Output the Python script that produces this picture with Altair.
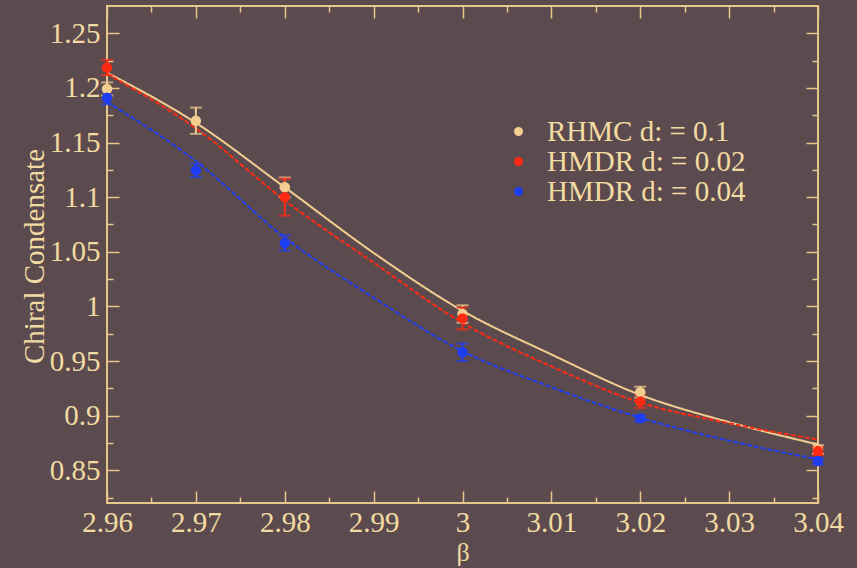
import altair as alt
import pandas as pd

# ---------------- data ----------------
series_names = ["RHMC d: = 0.1", "HMDR d: = 0.02", "HMDR d: = 0.04"]
series_colors = ["#F2CF91", "#FF2A14", "#1E3CF2"]

rhmc_beta = [2.96, 2.97, 2.98, 3.00, 3.02, 3.04]
rhmc_val = [1.199, 1.170, 1.109, 0.993, 0.9215, 0.869]
rhmc_err = [0.006, 0.012, 0.009, 0.008, 0.005, 0.004]

hmdr02_beta = [2.96, 2.98, 3.00, 3.02, 3.04]
hmdr02_val = [1.2186, 1.100, 0.989, 0.913, 0.8675]
hmdr02_err = [0.007, 0.017, 0.010, 0.006, 0.004]

hmdr04_beta = [2.96, 2.97, 2.98, 3.00, 3.02, 3.04]
hmdr04_val = [1.191, 1.1245, 1.058, 0.958, 0.8975, 0.8584]
hmdr04_err = [0.006, 0.006, 0.007, 0.008, 0.003, 0.003]

fit_beta = [2.96, 2.97, 2.98, 2.99, 3.00, 3.01, 3.02, 3.03, 3.04]
rhmc_fit = [1.214, 1.168, 1.109, 1.049, 0.996, 0.956, 0.919, 0.894, 0.8736]
hmdr02_fit = [1.213, 1.163, 1.097, 1.040, 0.985, 0.945, 0.912, 0.893, 0.878]
hmdr04_fit = [1.187, 1.133, 1.063, 1.008, 0.959, 0.926, 0.898, 0.877, 0.860]

x_major = [2.96, 2.97, 2.98, 2.99, 3.00, 3.01, 3.02, 3.03, 3.04]
x_minor = [2.965, 2.975, 2.985, 2.995, 3.005, 3.015, 3.025, 3.035]
y_major = [0.85, 0.9, 0.95, 1.0, 1.05, 1.1, 1.15, 1.2, 1.25]
y_minor = [0.825, 0.875, 0.925, 0.975, 1.025, 1.075, 1.125, 1.175, 1.225]

# ---------------- tables ----------------
pts = []
for name, b, v, e in [
    (series_names[0], rhmc_beta, rhmc_val, rhmc_err),
    (series_names[1], hmdr02_beta, hmdr02_val, hmdr02_err),
    (series_names[2], hmdr04_beta, hmdr04_val, hmdr04_err),
]:
    for bi, vi, ei in zip(b, v, e):
        pts.append({"series": name, "beta": bi, "val": vi, "lo": vi - ei, "hi": vi + ei})
pts_df = pd.DataFrame(pts)

caps_df = pd.concat([
    pts_df.assign(cap=pts_df["lo"]),
    pts_df.assign(cap=pts_df["hi"]),
])

fit_rows = []
for name, f in zip(series_names, [rhmc_fit, hmdr02_fit, hmdr04_fit]):
    for bi, vi in zip(fit_beta, f):
        fit_rows.append({"series": name, "beta": bi, "val": vi})
fit_df = pd.DataFrame(fit_rows)

legend_df = pd.DataFrame({"series": series_names})

# ---------------- style ----------------
FONT = "Liberation Serif"
TXT = "#F2DBA2"
AXC = "#E6C68A"
BG = "#5C4B4E"
W, H = 711, 497

xscale = alt.Scale(domain=[2.96, 3.04], nice=False, zero=False)
yscale = alt.Scale(domain=[0.82, 1.275], nice=False, zero=False)
cscale = alt.Scale(domain=series_names, range=series_colors)


def tick_axis(orient, values, size):
    return alt.Axis(orient=orient, values=values, labels=False, domain=False, grid=False,
                    ticks=True, tickSize=size, offset=-size, tickColor=AXC, tickWidth=1.5,
                    title=None)


x_label_axis = alt.Axis(orient="bottom", values=x_major, format="~g", ticks=False, tickSize=0,
                        domain=False, grid=False, labelPadding=5, labelFont=FONT,
                        labelFontSize=29, labelColor=TXT, labelFlush=False, labelOverlap=False,
                        title="β", titleFont=FONT, titleFontSize=26, titleFontWeight="normal",
                        titleColor=TXT, titleX=W / 2, titleY=57, titleBaseline="alphabetic",
                        titleAlign="center")
y_label_axis = alt.Axis(orient="left", values=y_major, format="~g", ticks=False, tickSize=0,
                        domain=False, grid=False, labelPadding=7, labelFont=FONT,
                        labelFontSize=29, labelColor=TXT, labelFlush=False, labelOverlap=False,
                        title="Chiral Condensate", titleFont=FONT, titleFontSize=29,
                        titleFontWeight="normal", titleColor=TXT, titleAngle=270,
                        titleX=-64, titleY=250, titleBaseline="alphabetic", titleAlign="center")

lines = alt.Chart(fit_df).mark_line(strokeWidth=2, interpolate="monotone").encode(
    x=alt.X("beta:Q", scale=xscale, axis=x_label_axis),
    y=alt.Y("val:Q", scale=yscale, axis=y_label_axis),
    color=alt.Color("series:N", scale=cscale, legend=None),
    strokeDash=alt.StrokeDash("series:N",
                              scale=alt.Scale(domain=series_names, range=[[1, 0], [5, 2], [5, 2]]),
                              legend=None),
)

rules = alt.Chart(pts_df).mark_rule(strokeWidth=2).encode(
    x=alt.X("beta:Q", scale=xscale, axis=tick_axis("bottom", x_major, 12)),
    y=alt.Y("lo:Q", scale=yscale, axis=tick_axis("left", y_major, 12)),
    y2="hi:Q",
    color=alt.Color("series:N", scale=cscale, legend=None),
)

caps = alt.Chart(caps_df).mark_tick(orient="horizontal", size=12, thickness=2).encode(
    x=alt.X("beta:Q", scale=xscale, axis=tick_axis("top", x_major, 12)),
    y=alt.Y("cap:Q", scale=yscale, axis=tick_axis("right", y_major, 12)),
    color=alt.Color("series:N", scale=cscale, legend=None),
)


def point_layer(name, xaxis, yaxis):
    return alt.Chart(pts_df[pts_df["series"] == name]).mark_circle(size=110, opacity=1).encode(
        x=alt.X("beta:Q", scale=xscale, axis=xaxis),
        y=alt.Y("val:Q", scale=yscale, axis=yaxis),
        color=alt.Color("series:N", scale=cscale, legend=None),
    )


legend = alt.Legend(orient="none", legendX=397, legendY=112, title=None, symbolType="circle",
                    symbolSize=80, labelFont=FONT, labelFontSize=29, labelColor=TXT,
                    labelOffset=14, labelLimit=500, rowPadding=0, clipHeight=27, padding=0,
                    symbolStrokeWidth=0)

# invisible layer that only carries the legend
legend_layer = alt.Chart(legend_df).mark_circle(size=0, opacity=0).encode(
    x=alt.X("series:N", axis=None),
    color=alt.Color("series:N", scale=cscale, legend=legend, sort=series_names),
)

p1 = point_layer(series_names[0], tick_axis("bottom", x_minor, 6), tick_axis("left", y_minor, 6))
p2 = point_layer(series_names[1], tick_axis("top", x_minor, 6), tick_axis("right", y_minor, 6))
p3 = point_layer(series_names[2], None, None)

chart = alt.layer(lines, rules, caps, p1, p2, p3, legend_layer).resolve_axis(
    x="independent", y="independent"
).resolve_scale(x="independent").resolve_legend(color="independent").properties(
    width=W, height=H,
    autosize=alt.AutoSizeParams(type="none"),
    padding={"left": 107, "top": 6, "right": 39, "bottom": 65},
).configure(background=BG).configure_view(stroke=AXC, strokeWidth=2, fill=None)

chart.save("out.html", embed_options={"renderer": "svg", "actions": False})
